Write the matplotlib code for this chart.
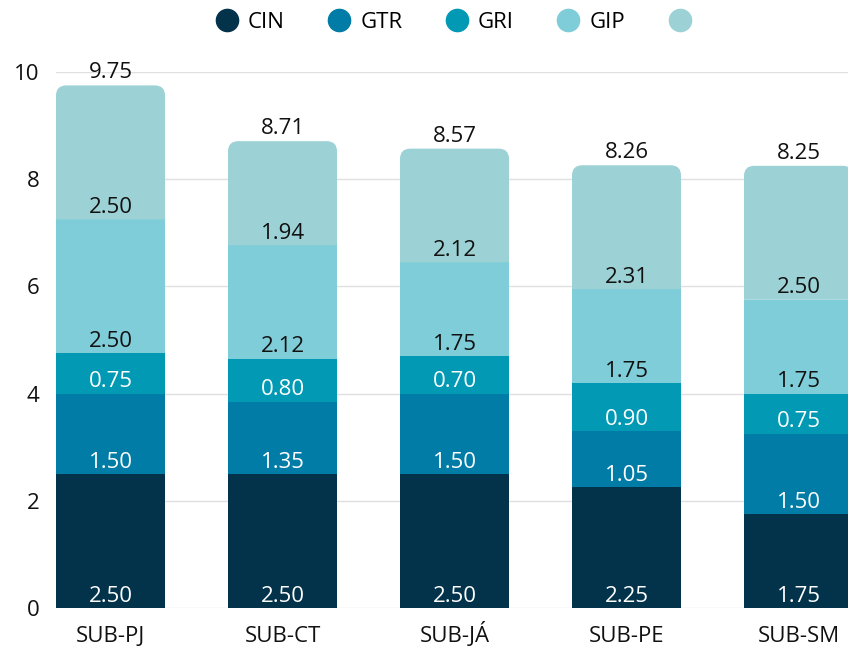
import matplotlib.pyplot as plt
import numpy as np
from matplotlib.path import Path
from matplotlib.patches import PathPatch
from matplotlib.lines import Line2D

plt.rcParams['font.family'] = ['Open Sans', 'DejaVu Sans']

categories = ["SUB-PJ", "SUB-CT", "SUB-JÁ", "SUB-PE", "SUB-SM"]
series_names = ["CIN", "GTR", "GRI", "GIP", ""]
cin = [2.50, 2.50, 2.50, 2.25, 1.75]
gtr = [1.50, 1.35, 1.50, 1.05, 1.50]
gri = [0.75, 0.80, 0.70, 0.90, 0.75]
gip = [2.50, 2.12, 1.75, 1.75, 1.75]
top = [2.50, 1.94, 2.12, 2.31, 2.50]
totals = [9.75, 8.71, 8.57, 8.26, 8.25]

colors = ["#02334b", "#017ca6", "#0199b4", "#7fcdd9", "#9cd2d5"]
text_colors = ["white", "white", "white", "#111111", "#111111"]
fs = 16

fig = plt.figure(figsize=(8.48, 6.47), dpi=100)
ax = fig.add_axes([56 / 848, 1 - 608 / 647, 1 - 56 / 848, (608 - 72) / 647])

xpos = np.arange(len(categories))
width = 0.634
bottom = np.zeros(len(categories))
data = [cin, gtr, gri, gip, top]

for i, vals in enumerate(data):
    vals = np.array(vals)
    bars = ax.bar(xpos, vals, width=width, bottom=bottom, color=colors[i], zorder=2)
    if i == len(data) - 1:
        # round the top corners of the last segment
        rx, ry = 0.06, 0.19
        for b in bars:
            x, y, w, h = b.get_x(), b.get_y(), b.get_width(), b.get_height()
            verts = [(x, y), (x + w, y), (x + w, y + h - ry), (x + w, y + h), (x + w - rx, y + h),
                     (x + rx, y + h), (x, y + h), (x, y + h - ry), (x, y)]
            codes = [Path.MOVETO, Path.LINETO, Path.LINETO, Path.CURVE3, Path.CURVE3,
                     Path.LINETO, Path.CURVE3, Path.CURVE3, Path.CLOSEPOLY]
            ax.add_patch(PathPatch(Path(verts, codes), facecolor=colors[i], edgecolor='none', zorder=2))
            b.remove()
    for xp, b, v in zip(xpos, bottom, vals):
        ax.annotate(f"{v:.2f}", (xp, b), xytext=(0, 8.5), textcoords='offset points',
                    ha='center', va='center', color=text_colors[i], fontsize=fs, zorder=3)
    bottom = bottom + vals

for xp, t in zip(xpos, totals):
    ax.annotate(f"{t:.2f}", (xp, t), xytext=(0, 9), textcoords='offset points',
                ha='center', va='center', color="#111111", fontsize=fs, annotation_clip=False)

ax.set_xlim(-width / 2, (848 - 110.5) / 172)
ax.set_ylim(0, 10)
ax.set_yticks([0, 2, 4, 6, 8, 10])
ax.set_xticks(xpos)
ax.set_xticklabels(categories)
ax.tick_params(axis='both', length=0, labelsize=fs, colors="#111111")
ax.tick_params(axis='y', pad=12)
ax.tick_params(axis='x', pad=24.5)
for lab in ax.get_xticklabels():
    lab.set_va('baseline')
for s in ax.spines.values():
    s.set_visible(False)
ax.grid(True, axis='y', color="#e0e0e0", linewidth=1, zorder=0)
ax.set_axisbelow(True)

handles = [Line2D([], [], marker='o', linestyle='none', markersize=16, markerfacecolor=c,
                  markeredgecolor=c) for c in colors]
fig.legend(handles, series_names, loc='center', bbox_to_anchor=(457 / 848, 1 - 22 / 647),
           ncol=5, frameon=False, fontsize=fs, handletextpad=0.35, columnspacing=1.85,
           handlelength=1.2)

fig.savefig("out.png", dpi=100)
